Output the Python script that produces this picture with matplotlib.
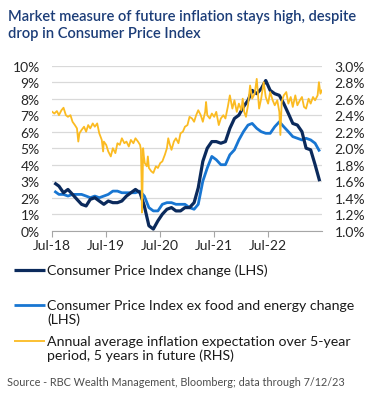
#plot.py
#CPI, core CPI and 5y5y inflation expectation chart (RBC style)

import numpy as np
import pandas as pd
import matplotlib
matplotlib.use("Agg")
import matplotlib.pyplot as plt
import matplotlib.dates as mdates

plt.rcParams['font.family'] = ['Lato', 'DejaVu Sans']

# DATA
# monthly year-over-year change, %, Jul-2018 .. Jun-2023
cpi = [2.9, 2.7, 2.3, 2.5, 2.2, 1.9,
       1.6, 1.5, 1.9, 2.0, 1.8, 1.6, 1.8, 1.7, 1.7, 1.8, 2.1, 2.3,
       2.5, 2.3, 1.5, 0.3, 0.1, 0.6, 1.0, 1.3, 1.4, 1.2, 1.2, 1.4,
       1.4, 1.7, 2.6, 4.2, 5.0, 5.4, 5.4, 5.3, 5.4, 6.2, 6.8, 7.0,
       7.5, 7.9, 8.5, 8.3, 8.6, 9.1, 8.5, 8.3, 8.2, 7.7, 7.1, 6.5,
       6.4, 6.0, 5.0, 4.9, 4.0, 3.0]
core_cpi = [2.4, 2.2, 2.2, 2.1, 2.2, 2.2,
            2.2, 2.1, 2.0, 2.1, 2.0, 2.1, 2.2, 2.4, 2.4, 2.3, 2.3, 2.3,
            2.3, 2.4, 2.1, 1.4, 1.2, 1.2, 1.6, 1.7, 1.7, 1.6, 1.6, 1.6,
            1.4, 1.3, 1.6, 3.0, 3.8, 4.5, 4.3, 4.0, 4.0, 4.6, 4.9, 5.5,
            6.0, 6.4, 6.5, 6.2, 6.0, 5.9, 5.9, 6.3, 6.6, 6.3, 6.0, 5.7,
            5.6, 5.5, 5.6, 5.5, 5.3, 4.8]
cpi_dates = pd.date_range("2018-07-01", "2023-06-01", freq="MS") + pd.Timedelta(days=14)

# 5y5y forward inflation expectation, %
be_dates = pd.to_datetime([
    "2018-07-01", "2018-07-15", "2018-08-01", "2018-08-15", "2018-09-01", "2018-09-15",
    "2018-10-01", "2018-10-15", "2018-11-01", "2018-11-15", "2018-12-01", "2018-12-15",
    "2018-12-24", "2019-01-01", "2019-01-15", "2019-02-01", "2019-02-15", "2019-03-01",
    "2019-03-15", "2019-04-01", "2019-04-15", "2019-05-01", "2019-05-15", "2019-06-01",
    "2019-06-10", "2019-06-15", "2019-07-01", "2019-07-15", "2019-08-01", "2019-08-15",
    "2019-09-01", "2019-09-15", "2019-10-01", "2019-10-15", "2019-11-01", "2019-11-15",
    "2019-12-01", "2019-12-15", "2020-01-01", "2020-01-15", "2020-02-01", "2020-02-15",
    "2020-02-21", "2020-02-25", "2020-02-28", "2020-03-03", "2020-03-07", "2020-03-12",
    "2020-03-18", "2020-04-01", "2020-04-08", "2020-04-15", "2020-05-01", "2020-05-15",
    "2020-06-01", "2020-06-15", "2020-07-01", "2020-07-15", "2020-08-01", "2020-08-15",
    "2020-08-24", "2020-09-01", "2020-09-15", "2020-10-01", "2020-10-15", "2020-11-01",
    "2020-11-15", "2020-12-01", "2020-12-15", "2021-01-01", "2021-01-15", "2021-02-01",
    "2021-02-15", "2021-03-01", "2021-03-15", "2021-04-01", "2021-04-15", "2021-05-01",
    "2021-05-07", "2021-05-15", "2021-06-01", "2021-06-15", "2021-07-01", "2021-07-15",
    "2021-08-01", "2021-08-15", "2021-09-01", "2021-09-15", "2021-10-01", "2021-10-15",
    "2021-11-01", "2021-11-15", "2021-12-01", "2021-12-15", "2022-01-01", "2022-01-10",
    "2022-01-20", "2022-02-01", "2022-02-15", "2022-03-01", "2022-03-15", "2022-04-01",
    "2022-04-15", "2022-05-01", "2022-05-15", "2022-06-01", "2022-06-15", "2022-07-01",
    "2022-07-15", "2022-08-01", "2022-08-15", "2022-09-01", "2022-09-15", "2022-09-22",
    "2022-10-01", "2022-10-15", "2022-11-01", "2022-11-15", "2022-12-01", "2022-12-15",
    "2023-01-01", "2023-01-15", "2023-02-01", "2023-02-15", "2023-03-01", "2023-03-15",
    "2023-04-01", "2023-04-15", "2023-05-01", "2023-05-15", "2023-06-01", "2023-06-10",
    "2023-06-20", "2023-06-30"])
be_values = [
    2.44, 2.42, 2.45, 2.40, 2.46, 2.49,
    2.40, 2.38, 2.40, 2.32, 2.28, 2.24,
    2.08, 2.18, 2.22, 2.26, 2.20, 2.28,
    2.24, 2.30, 2.26, 2.30, 2.18, 2.10,
    1.96, 2.08, 2.04, 1.96, 1.90, 2.00,
    1.94, 2.06, 2.04, 2.12, 2.06, 2.08,
    2.02, 2.10, 2.06, 2.12, 2.08, 2.04,
    1.98, 1.64, 1.22, 1.56, 2.00, 1.90,
    1.82, 1.78, 1.90, 1.76, 1.72, 1.70,
    1.78, 1.76, 1.82, 1.84, 1.92, 2.00,
    2.12, 2.06, 1.98, 2.08, 2.12, 2.06,
    2.18, 2.20, 2.26, 2.28, 2.38, 2.36,
    2.32, 2.40, 2.46, 2.40, 2.32, 2.44,
    2.56, 2.40, 2.36, 2.42, 2.38, 2.44,
    2.28, 2.36, 2.40, 2.36, 2.50, 2.64,
    2.48, 2.58, 2.44, 2.54, 2.46, 2.60,
    2.44, 2.38, 2.52, 2.76, 2.60, 2.66,
    2.84, 2.48, 2.60, 2.80, 2.62, 2.54,
    2.68, 2.58, 2.52, 2.58, 2.44, 2.16,
    2.56, 2.64, 2.68, 2.54, 2.62, 2.50,
    2.64, 2.52, 2.58, 2.62, 2.50, 2.48,
    2.60, 2.54, 2.62, 2.58, 2.64, 2.80,
    2.66, 2.70]

lhs_ticks = np.arange(0, 11, 1)
rhs_ticks = np.arange(1.0, 3.01, 0.2)
year_ticks = pd.to_datetime(["2018-07-01", "2019-07-01", "2020-07-01", "2021-07-01", "2022-07-01"])

navy = "#0b2a5c"
blue = "#1876d2"
gold = "#fbbb22"

# PLOT
fig = plt.figure(figsize=(3.77, 4.02), dpi=100)
ax = fig.add_axes([0.1387, 0.4236, 0.7155, 0.4106])

ax.plot(cpi_dates, cpi, color=navy, lw=2.3, solid_capstyle="butt", zorder=3)
ax.plot(cpi_dates, core_cpi, color=blue, lw=2.0, solid_capstyle="butt", zorder=2)
ax.set_ylim(0, 10)
ax.set_xlim(pd.Timestamp("2018-07-01"), pd.Timestamp("2023-07-01"))
ax.set_yticks(lhs_ticks)
ax.set_yticklabels([f"{v}%" for v in lhs_ticks])
ax.set_xticks(year_ticks)
ax.xaxis.set_major_formatter(mdates.DateFormatter("Jul-%y"))
ax.grid(axis="y", color="#d9d9d9", lw=0.9)
ax.set_axisbelow(True)
for s in ["top", "right", "left"]:
    ax.spines[s].set_visible(False)
ax.spines["bottom"].set_color("#a6a6a6")
ax.tick_params(axis="y", length=0, pad=9, labelsize=10, labelcolor="#262626")
ax.tick_params(axis="x", length=4, color="#a6a6a6", pad=2, labelsize=10, labelcolor="#262626")

ax2 = ax.twinx()
ax2.plot(be_dates, be_values, color=gold, lw=1.3)
ax2.set_ylim(1.0, 3.0)
ax2.set_yticks(rhs_ticks)
ax2.set_yticklabels([f"{v:.1f}%" for v in rhs_ticks])
for s in ax2.spines.values():
    s.set_visible(False)
ax2.tick_params(axis="y", length=0, pad=9, labelsize=10, labelcolor="#262626")

# title, legend and source drawn in figure pixel coords
lax = fig.add_axes([0, 0, 1, 1], zorder=-1)
lax.set_xlim(0, 377)
lax.set_ylim(402, 0)
lax.axis("off")

title_col = "#1c3d78"
lax.text(8, 17, "Market measure of future inflation stays high, despite",
         fontsize=10.6, fontweight="semibold", color=title_col, va="center")
lax.text(8, 34, "drop in Consumer Price Index",
         fontsize=10.6, fontweight="semibold", color=title_col, va="center")

txt = "#1a1a1a"
fs = 10.2
lax.plot([14, 45], [271, 271], color=navy, lw=2.3, solid_capstyle="butt")
lax.text(47, 271, "Consumer Price Index change (LHS)", fontsize=fs, color=txt, va="center")
lax.plot([14, 45], [306, 306], color=blue, lw=2.0, solid_capstyle="butt")
lax.text(47, 306, "Consumer Price Index ex food and energy change", fontsize=fs, color=txt, va="center")
lax.text(47, 320, "(LHS)", fontsize=fs, color=txt, va="center")
lax.plot([14, 45], [342, 342], color=gold, lw=1.3, solid_capstyle="butt")
lax.text(47, 342, "Annual average inflation expectation over 5-year", fontsize=fs, color=txt, va="center")
lax.text(47, 356, "period, 5 years in future (RHS)", fontsize=fs, color=txt, va="center")

lax.text(7, 383, "Source - RBC Wealth Management, Bloomberg; data through 7/12/23",
         fontsize=7.8, color="#4d4d4d", va="center")

fig.savefig("out.png", dpi=100)
